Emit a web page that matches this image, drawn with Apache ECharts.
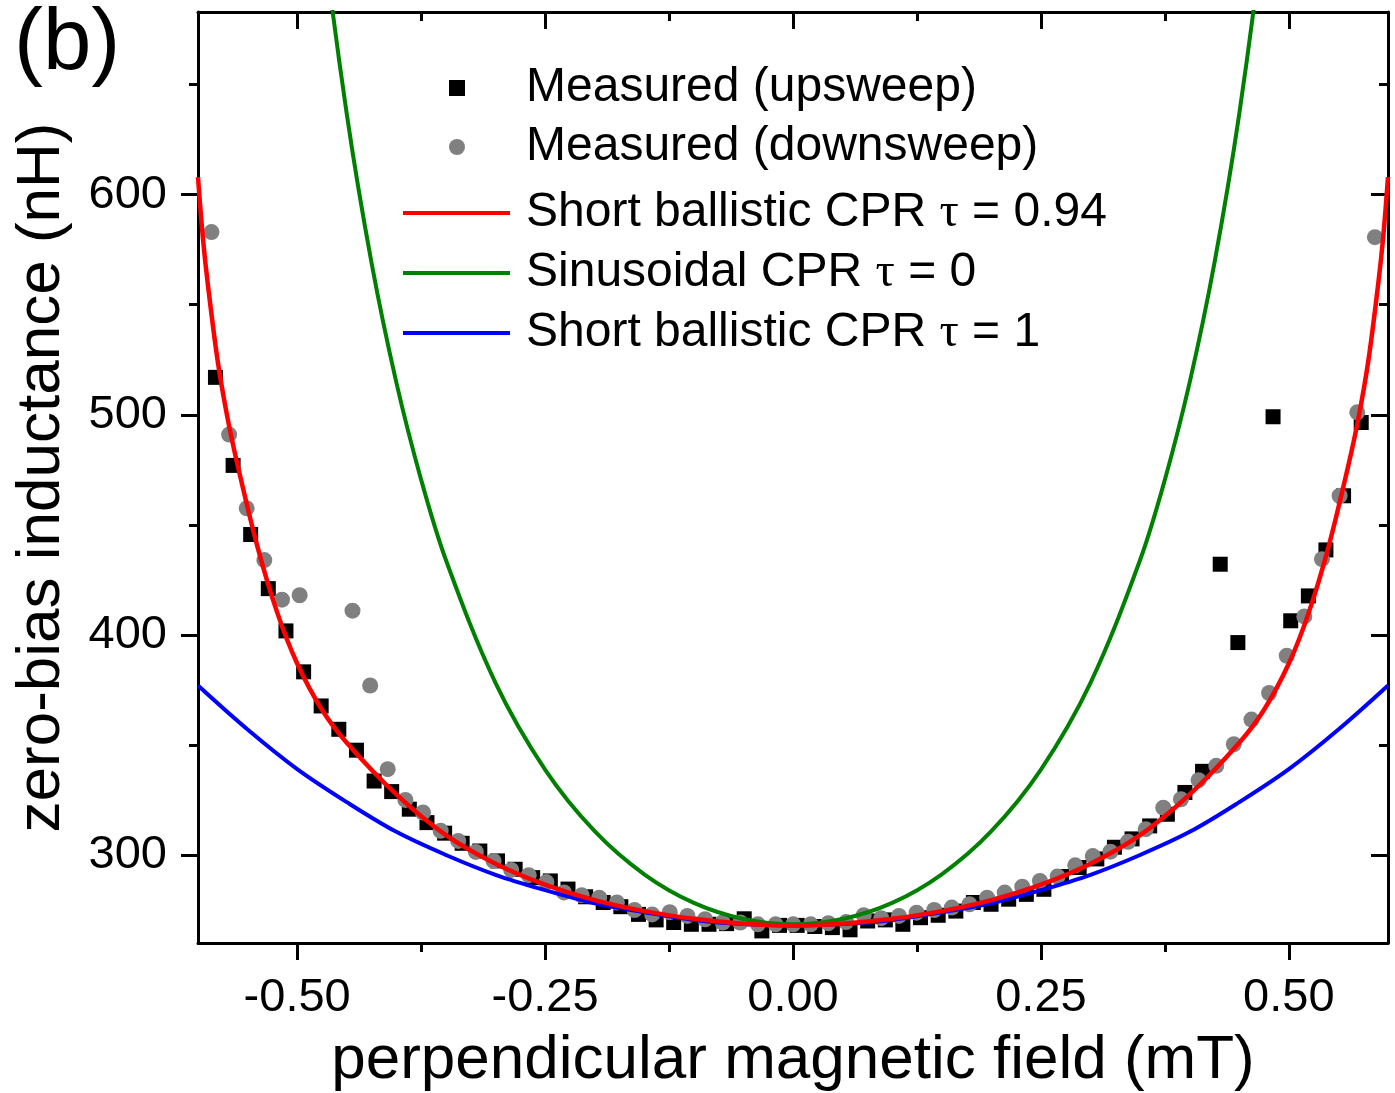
<!DOCTYPE html>
<html>
<head>
<meta charset="utf-8">
<script src="https://cdn.jsdelivr.net/npm/echarts@6/dist/echarts.min.js"></script>
<style>
  html, body { margin: 0; padding: 0; background: #fff; }
  #chart { width: 1395px; height: 1093px; }
</style>
</head>
<body>
<div id="chart"></div>
<script>
// Measured zero-bias inductance, upsweep (mT, nH)
const upsweepField = [-0.5824,-0.5646,-0.5469,-0.5291,-0.5113,-0.4935,-0.4758,-0.4580,-0.4402,-0.4224,-0.4047,-0.3869,-0.3691,-0.3513,-0.3336,-0.3158,-0.2980,-0.2802,-0.2625,-0.2447,-0.2269,-0.2091,-0.1914,-0.1736,-0.1558,-0.1380,-0.1203,-0.1025,-0.0847,-0.0669,-0.0492,-0.0314,-0.0136,0.0042,0.0220,0.0397,0.0575,0.0753,0.0931,0.1108,0.1286,0.1464,0.1642,0.1819,0.1997,0.2175,0.2353,0.2530,0.2708,0.2886,0.3064,0.3241,0.3419,0.3597,0.3775,0.3952,0.4130,0.4308,0.4486,0.4841,0.5019,0.5197,0.5374,0.5552,0.5730];
const upsweepL = [517,477,445.6,421,401.8,383.2,367.7,357.1,347.6,333.6,328.8,320.8,314.7,309.9,305.3,301.8,297.3,293.5,289.7,288.2,284.5,281,278.4,276.5,273,270.5,269.3,268.5,268.5,268.8,271,265.5,268,268,267.5,267,266,270,270.5,268.5,271.5,272.6,274.5,278.4,277.6,279.9,282.1,284.4,290.2,294.3,298.2,303.5,307.3,313.2,318.5,328.4,338,432.1,396.5,499.1,406.4,417.7,438.6,463.2,496.5];

// Measured zero-bias inductance, downsweep (mT, nH)
const downsweepField = [-0.5864,-0.5686,-0.5509,-0.5331,-0.5153,-0.4975,-0.4442,-0.4264,-0.4087,-0.3909,-0.3731,-0.3553,-0.3376,-0.3198,-0.3020,-0.2842,-0.2665,-0.2487,-0.2309,-0.2131,-0.1954,-0.1776,-0.1598,-0.1420,-0.1243,-0.1065,-0.0887,-0.0709,-0.0532,-0.0354,-0.0176,0.0002,0.0179,0.0357,0.0535,0.0713,0.0890,0.1068,0.1246,0.1424,0.1601,0.1779,0.1957,0.2135,0.2312,0.2490,0.2668,0.2846,0.3023,0.3201,0.3379,0.3557,0.3734,0.3912,0.4090,0.4268,0.4445,0.4623,0.4801,0.4979,0.5156,0.5334,0.5512,0.5690,0.5868];
const downsweepL = [583,491,457.5,434,416,418,411,377,339,325,319.3,311,306.4,301.4,297.3,293.2,290.8,287.7,283,281.7,280.6,278.4,275,273,274,272.3,270.8,269.3,269.3,268.5,268.5,268.5,268.5,269,269.5,272.6,271.3,272.3,273.8,275,276.1,277.6,280.6,282.9,285.6,288.2,290.2,295.3,299.5,301.5,306,311.7,321.5,325.3,334,340.5,350.3,361.5,373.6,390.5,408.4,434.4,463.2,501.1,580.7];

// Model curves
const ballistic094Field = [-0.6,-0.595,-0.59,-0.58,-0.57,-0.56,-0.54,-0.52,-0.5,-0.475,-0.45,-0.4,-0.35,-0.3,-0.25,-0.2,-0.15,-0.1,-0.05,0,0.05,0.1,0.15,0.2,0.25,0.3,0.35,0.4,0.45,0.475,0.5,0.52,0.54,0.56,0.57,0.58,0.59,0.595,0.6];
const ballistic094L = [608,580,559,524,498,477,440,410,387,366,351,327.5,309,296,286.5,279.5,274.5,271,268.8,268,268.8,271,274.5,279.5,286.5,296,309,327.5,351,366,387,410,440,477,498,524,559,580,608];

const sinusoidalField = [-0.5,-0.475,-0.45,-0.425,-0.4,-0.375,-0.35,-0.3,-0.25,-0.2,-0.15,-0.1,-0.05,0,0.05,0.1,0.15,0.2,0.25,0.3,0.35,0.375,0.4,0.425,0.45,0.475,0.5];
const sinusoidalL = [835,723,636.7,569,514.7,470.5,434,378.2,338.8,310.8,291.2,278.2,270.9,268.5,270.9,278.2,291.2,310.8,338.8,378.2,434,470.5,514.7,569,636.7,723,835];

const ballistic1Field = [-0.6,-0.55,-0.5,-0.45,-0.4,-0.35,-0.3,-0.25,-0.2,-0.15,-0.1,-0.05,0,0.05,0.1,0.15,0.2,0.25,0.3,0.35,0.4,0.45,0.5,0.55,0.6];
const ballistic1L = [377,357,339,324,310.5,300,291,284,278,274,270.5,268.6,268,268.6,270.5,274,278,284,291,300,310.5,324,339,357,377];

// Axis ticks
const xMajorTicks = [-0.5, -0.25, 0, 0.25, 0.5];
const xMinorTicks = [-0.375, -0.125, 0.125, 0.375];
const yMajorTicks = [300, 400, 500, 600];
const yMinorTicks = [350, 450, 550, 650];

const X_MIN = -0.6, X_MAX = 0.6, Y_MIN = 260, Y_MAX = 683;
const FONT = '"Liberation Sans", Arial, sans-serif';

const pairs = (xs, ys) => xs.map((x, i) => [x, ys[i]]);

const axisLineStyle = { color: '#000', width: 3 };

function makeAxis(kind, position, ticks, tickLen, inside, showLine, labels) {
  const isX = kind === 'x';
  const axis = {
    type: 'value',
    position: position,
    min: isX ? X_MIN : Y_MIN,
    max: isX ? X_MAX : Y_MAX,
    splitLine: { show: false },
    axisLine: { show: showLine, onZero: false, lineStyle: axisLineStyle },
    axisTick: {
      show: true, inside: inside, length: tickLen, customValues: ticks,
      lineStyle: { color: '#000', width: 3 }
    },
    axisLabel: { show: false },
    minorTick: { show: false }
  };
  if (labels) {
    axis.axisLabel = {
      show: true,
      customValues: ticks,
      color: '#000',
      fontSize: 47,
      fontFamily: FONT,
      margin: isX ? 32 : 31,
      formatter: isX ? (v => v.toFixed(2)) : (v => String(v))
    };
  }
  return axis;
}

const xAxes = [
  makeAxis('x', 'bottom', xMajorTicks, 17, false, true, true),
  makeAxis('x', 'bottom', xMinorTicks, 9, false, false, false),
  makeAxis('x', 'top', xMajorTicks, 17, true, true, false),
  makeAxis('x', 'top', xMinorTicks, 9, true, false, false)
];
Object.assign(xAxes[0], {
  name: 'perpendicular magnetic field (mT)',
  nameLocation: 'middle',
  nameGap: 87,
  nameTextStyle: { color: '#000', fontSize: 62, fontFamily: FONT }
});

const yAxes = [
  makeAxis('y', 'left', yMajorTicks, 17, false, true, true),
  makeAxis('y', 'left', yMinorTicks, 9, false, false, false),
  makeAxis('y', 'right', yMajorTicks, 17, true, true, false),
  makeAxis('y', 'right', yMinorTicks, 9, true, false, false)
];
Object.assign(yAxes[0], {
  name: 'zero-bias inductance (nH)',
  nameLocation: 'middle',
  nameGap: 125,
  nameTextStyle: { color: '#000', fontSize: 62, fontFamily: FONT }
});

const NAME_UP = 'Measured (upsweep)';
const NAME_DOWN = 'Measured (downsweep)';
const NAME_B094 = 'Short ballistic CPR τ = 0.94';
const NAME_SIN = 'Sinusoidal CPR τ = 0';
const NAME_B1 = 'Short ballistic CPR τ = 1';

const lineSeries = (name, xs, ys, color, width, z) => ({
  type: 'line',
  name: name,
  data: pairs(xs, ys),
  showSymbol: false,
  symbol: 'none',
  smooth: 0.35,
  clip: true,
  z: z,
  itemStyle: { color: color },
  lineStyle: { color: color, width: width }
});

const legendText = {
  color: '#000',
  fontSize: 48,
  fontFamily: FONT,
  lineHeight: 48
};

const option = {
  animation: false,
  backgroundColor: '#fff',
  grid: { left: 198, right: 7, top: 12, bottom: 150, containLabel: false, outerBoundsMode: 'none' },
  xAxis: xAxes,
  yAxis: yAxes,
  legend: [
    {
      data: [{ name: NAME_UP, icon: 'rect' }, { name: NAME_DOWN, icon: 'circle' }],
      orient: 'vertical',
      left: 449,
      top: 64,
      padding: 0,
      itemWidth: 16,
      itemHeight: 16,
      itemGap: 11,
      selectedMode: false,
      itemStyle: { borderWidth: 0 },
      textStyle: Object.assign({}, legendText, { padding: [0, 0, 0, 56] })
    },
    {
      data: [
        { name: NAME_B094, icon: 'rect' },
        { name: NAME_SIN, icon: 'rect' },
        { name: NAME_B1, icon: 'rect' }
      ],
      orient: 'vertical',
      left: 403,
      top: 189,
      padding: 0,
      itemWidth: 107,
      itemHeight: 4,
      itemGap: 12,
      selectedMode: false,
      itemStyle: { borderWidth: 0 },
      formatter: n => n.replace('τ', '{t|τ}'),
      textStyle: Object.assign({}, legendText, {
        padding: [0, 0, 0, 11],
        rich: { t: { fontFamily: '"Liberation Serif", serif', fontSize: 48, lineHeight: 48, color: '#000' } }
      })
    }
  ],
  graphic: [
    {
      type: 'text',
      left: 14,
      top: 2,
      style: { text: '(b)', fontSize: 87, fontFamily: FONT, fill: '#000' }
    }
  ],
  series: [
    {
      type: 'scatter',
      name: NAME_UP,
      data: pairs(upsweepField, upsweepL),
      symbol: 'rect',
      symbolSize: 15,
      z: 2,
      itemStyle: { color: '#000', opacity: 1 }
    },
    {
      type: 'scatter',
      name: NAME_DOWN,
      data: pairs(downsweepField, downsweepL),
      symbol: 'circle',
      symbolSize: 16,
      z: 3,
      itemStyle: { color: '#808080', opacity: 1 }
    },
    lineSeries(NAME_B1, ballistic1Field, ballistic1L, '#0000ff', 4, 4),
    lineSeries(NAME_SIN, sinusoidalField, sinusoidalL, '#008000', 4, 5),
    lineSeries(NAME_B094, ballistic094Field, ballistic094L, '#ff0000', 4.5, 6)
  ]
};

const chart = echarts.init(document.getElementById('chart'), null, { renderer: 'canvas' });
chart.setOption(option);
</script>
</body>
</html>
